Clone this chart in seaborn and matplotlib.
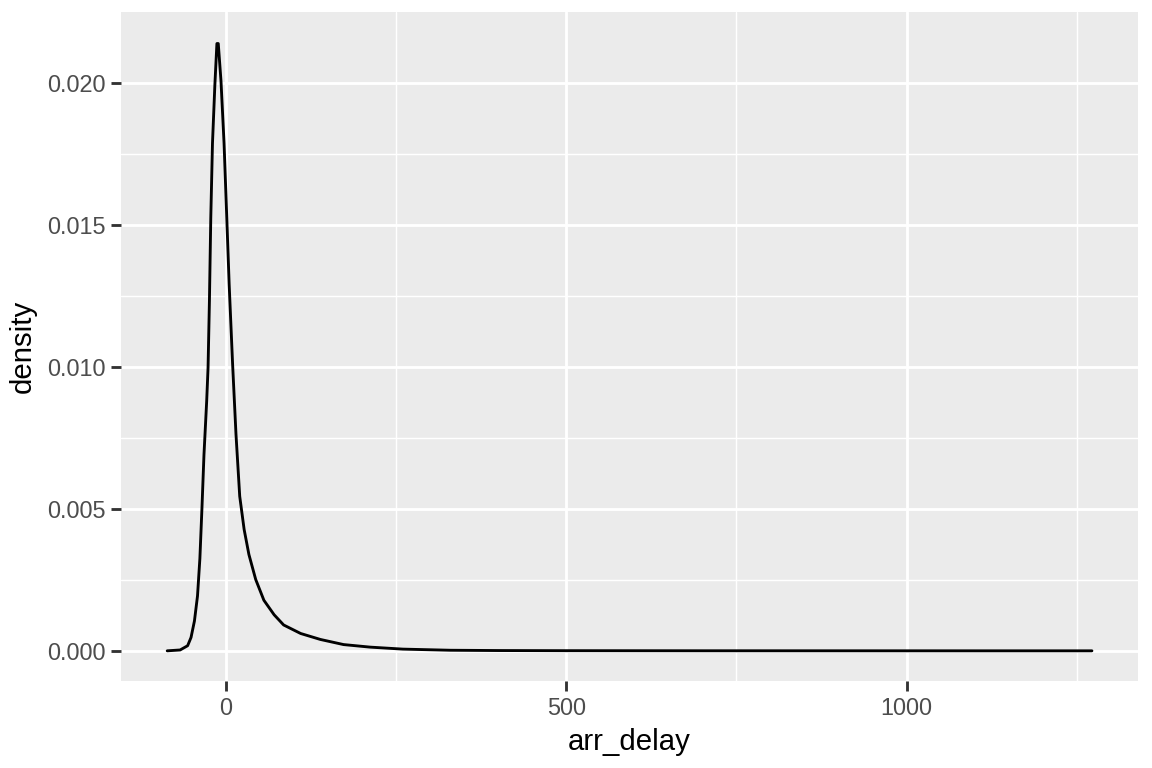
import matplotlib
matplotlib.use("Agg")
import matplotlib.pyplot as plt
from matplotlib.ticker import MultipleLocator
import seaborn as sns
import pandas as pd

# density of arr_delay
arr_delay = [-86, -67, -56, -51, -46, -41.5, -38, -35, -32, -28, -26, -24, -22, -19.5,
             -16, -13, -11, -7, -2.5, 1.5, 5, 10, 15, 20.5, 27, 34, 44, 56, 71, 85,
             110, 139, 173, 212, 260, 330, 400, 500, 700, 900, 1100, 1272]
density = [0.0, 0.00003, 0.00018, 0.00047, 0.00105, 0.00193, 0.00325, 0.0050, 0.0069,
           0.0088, 0.00997, 0.0123, 0.01524, 0.01787, 0.01992, 0.02138, 0.02138, 0.02006,
           0.01787, 0.01524, 0.0129, 0.01012, 0.00763, 0.00544, 0.00427, 0.00339, 0.00251,
           0.00178, 0.00127, 0.00091, 0.00061, 0.0004, 0.00022, 0.00013, 0.00006, 0.00002,
           0.00001, 0.000005, 0.000002, 0.000001, 0.0, 0.0]

df = pd.DataFrame({"arr_delay": arr_delay, "density": density})

sns.set_theme(style="darkgrid")
plt.rcParams["font.family"] = ["Liberation Sans", "DejaVu Sans"]

fig, ax = plt.subplots(figsize=(6, 4), dpi=192)
fig.subplots_adjust(left=0.105, right=0.988, top=0.984, bottom=0.113)

sns.lineplot(data=df, x="arr_delay", y="density", color="black", linewidth=1.07, ax=ax)

ax.set_facecolor("#EBEBEB")
ax.set_xlim(-153.9, 1339.9)
ax.set_ylim(-0.00107, 0.02248)
ax.xaxis.set_major_locator(MultipleLocator(500))
ax.xaxis.set_minor_locator(MultipleLocator(250))
ax.yaxis.set_major_locator(MultipleLocator(0.005))
ax.yaxis.set_minor_locator(MultipleLocator(0.0025))
ax.set_yticklabels([])
ax.set_yticks([0, 0.005, 0.010, 0.015, 0.020])
ax.set_yticklabels(["0.000", "0.005", "0.010", "0.015", "0.020"])
ax.set_xticks([0, 500, 1000])
ax.set_xticklabels(["0", "500", "1000"])

ax.grid(which="major", color="white", linewidth=1.07)
ax.grid(which="minor", color="white", linewidth=0.53)
ax.set_axisbelow(True)
for s in ax.spines.values():
    s.set_visible(False)

ax.tick_params(which="major", length=3.6, width=1.07, color="#333333",
               labelcolor="#4D4D4D", labelsize=8.8, pad=2.2)
ax.tick_params(which="minor", length=0)
ax.tick_params(axis="x", bottom=True)
ax.tick_params(axis="y", left=True)

ax.set_xlabel("arr_delay", fontsize=11, color="black", labelpad=3)
ax.set_ylabel("density", fontsize=11, color="black", labelpad=4)

fig.savefig("out.png", dpi=192)
